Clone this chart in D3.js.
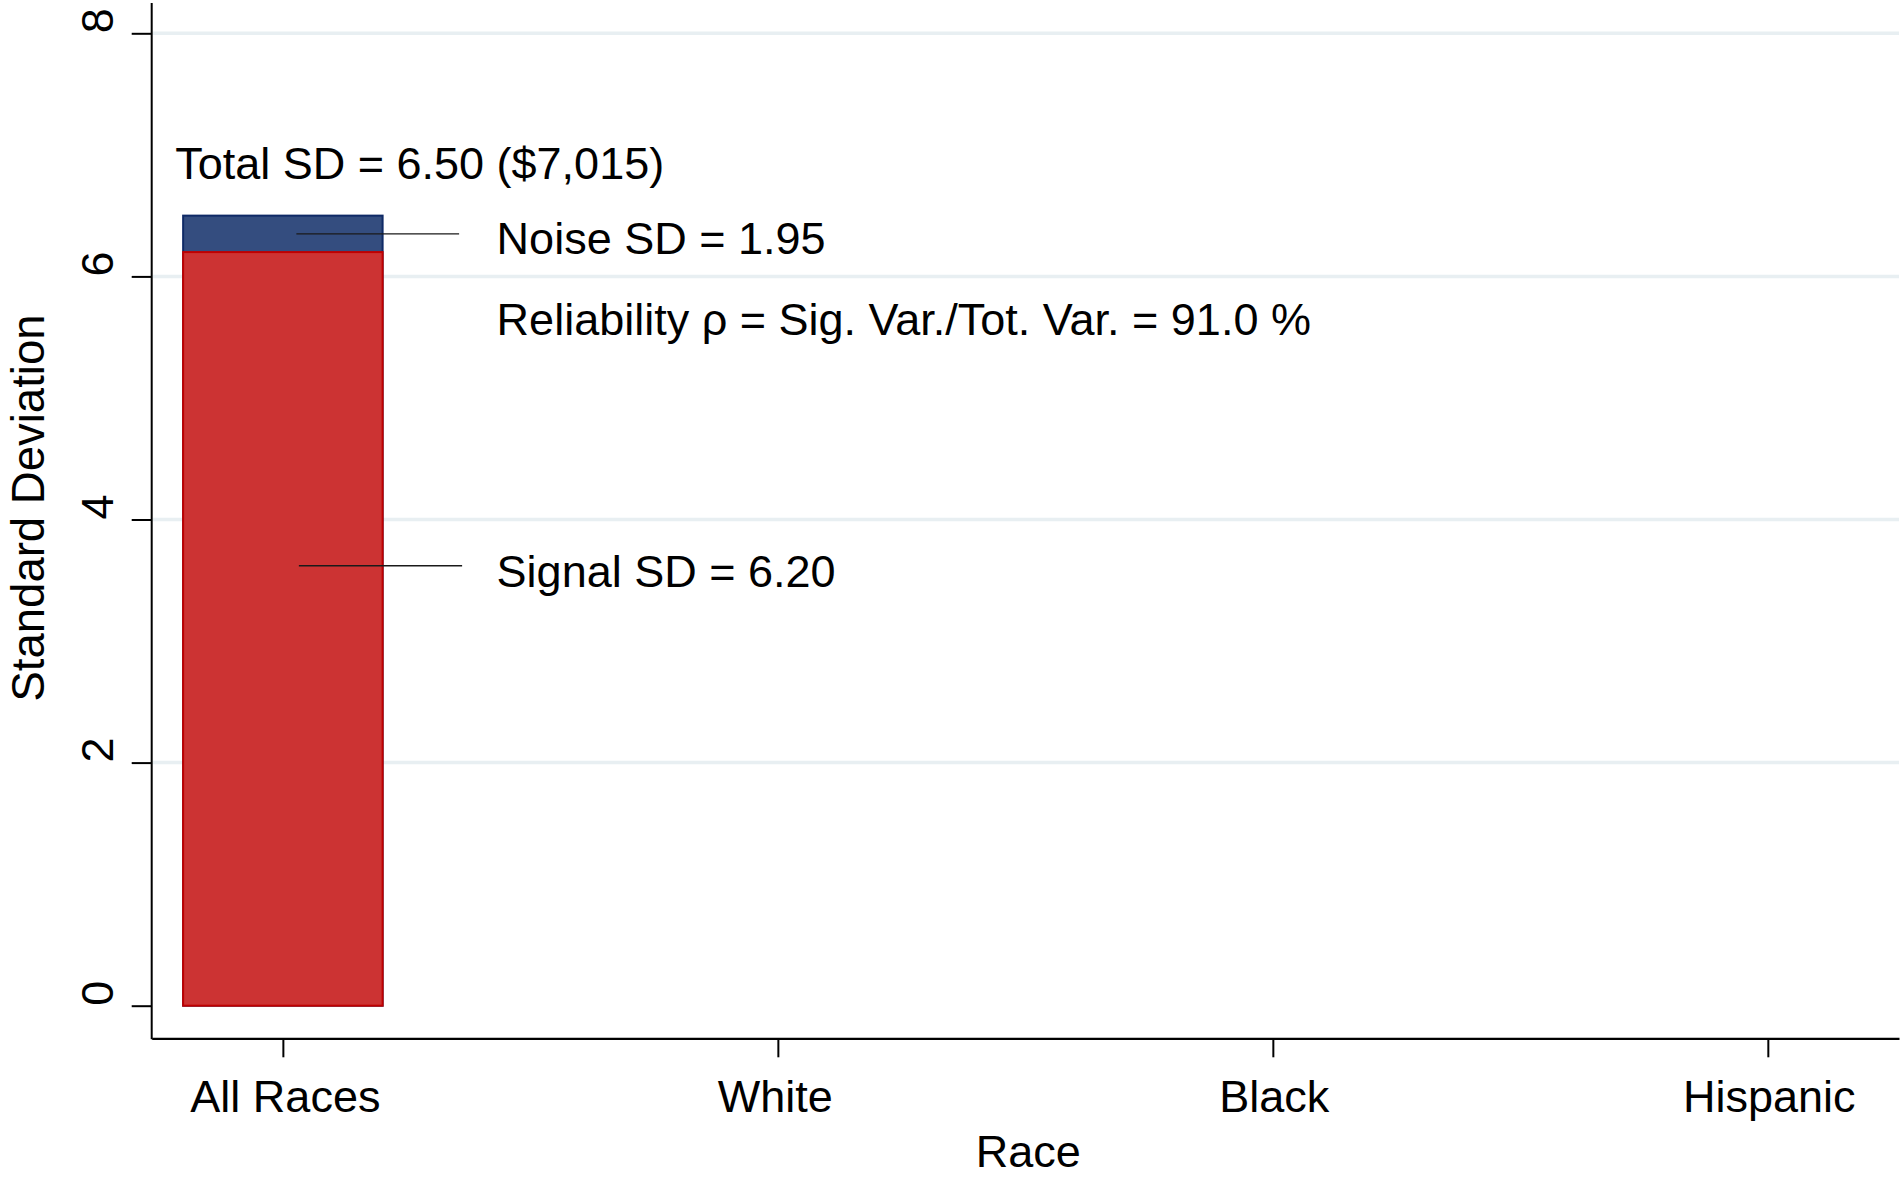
<!DOCTYPE html>
<html>
<head>
<meta charset="utf-8">
<script src="https://cdn.jsdelivr.net/npm/d3@7"></script>
<style>
  html, body { margin: 0; padding: 0; background: #ffffff; }
  svg { display: block; }
  text { font-family: "Liberation Sans", Arial, Helvetica, sans-serif; fill: #000; }
</style>
</head>
<body>
<svg id="chart" width="1900" height="1177"></svg>
<script>
// ---- data ----
const categories = ["All Races", "White", "Black", "Hispanic"];
const signalSD   = [6.20, null, null, null];
const totalSD    = [6.50, null, null, null];
const noiseSD    = [1.95, null, null, null];
const reliabilityPct = [91.0, null, null, null];
const totalDollars   = ["$7,015", null, null, null];
const yTicks = [0, 2, 4, 6, 8];
const yDomain = [0, 8];
const xTitle = "Race";
const yTitle = "Standard Deviation";

// ---- layout ----
const W = 1900, H = 1177;
const plotLeft = 151.7, plotRight = 1899, plotTop = 3, xAxisY = 1038.3;
const y0px = 1005.7, yMaxPx = 33.3;
const FS = 45;
const labelNudge = [2, -3, 1, 1];

const svg = d3.select("#chart");

const x = d3.scalePoint().domain(categories).range([plotLeft, plotRight]).padding(0.265);
const y = d3.scaleLinear().domain(yDomain).range([y0px, yMaxPx]);
const barW = x.step() * 0.403;

// gridlines (not at 0)
svg.append("g").selectAll("line")
  .data(yTicks.filter(d => d !== 0))
  .join("line")
  .attr("x1", plotLeft + 1).attr("x2", plotRight)
  .attr("y1", d => y(d)).attr("y2", d => y(d))
  .attr("stroke", "#e8eff2").attr("stroke-width", 3.5);

// bars: total (blue) under, signal (red) on top
const rows = categories.map((c, i) => ({ c, sig: signalSD[i], tot: totalSD[i], noise: noiseSD[i], rel: reliabilityPct[i], dol: totalDollars[i] }))
  .filter(d => d.sig != null);

svg.append("g").selectAll("rect.tot")
  .data(rows).join("rect")
  .attr("x", d => x(d.c) - barW / 2)
  .attr("width", barW)
  .attr("y", d => y(d.tot))
  .attr("height", d => y(0) - y(d.tot))
  .attr("fill", "#344d7f").attr("stroke", "#0f2a66").attr("stroke-width", 2);

svg.append("g").selectAll("rect.sig")
  .data(rows).join("rect")
  .attr("x", d => x(d.c) - barW / 2)
  .attr("width", barW)
  .attr("y", d => y(d.sig))
  .attr("height", d => y(0) - y(d.sig))
  .attr("fill", "#cc3333").attr("stroke", "#c00000").attr("stroke-width", 2);

// y axis
const yAxis = d3.axisLeft(y).tickValues(yTicks).tickSize(20).tickFormat(d3.format("d"));
const gy = svg.append("g").attr("transform", `translate(${plotLeft},0)`).call(yAxis);
gy.select(".domain").remove();
gy.selectAll(".tick line").attr("stroke", "#000").attr("stroke-width", 2);
gy.selectAll(".tick text")
  .attr("x", null).attr("dy", null)
  .attr("text-anchor", "middle")
  .attr("transform", "translate(-39,-13) rotate(-90)")
  .style("font-size", FS + "px")
  .style("font-family", '"Liberation Sans", Arial, sans-serif')
  .attr("fill", "#000");
svg.append("line")
  .attr("x1", plotLeft).attr("x2", plotLeft)
  .attr("y1", plotTop).attr("y2", xAxisY + 1)
  .attr("stroke", "#000").attr("stroke-width", 2);

// x axis
const xAxis = d3.axisBottom(x).tickSize(19).tickSizeOuter(0);
const gx = svg.append("g").attr("transform", `translate(0,${xAxisY})`).call(xAxis);
gx.select(".domain").attr("stroke", "#000").attr("stroke-width", 2.2);
gx.selectAll(".tick line").attr("stroke", "#000").attr("stroke-width", 2);
gx.selectAll(".tick text")
  .attr("y", 73.7).attr("dy", null)
  .attr("dx", (d, i) => labelNudge[i])
  .style("font-size", FS + "px")
  .style("font-family", '"Liberation Sans", Arial, sans-serif')
  .attr("fill", "#000");

// axis titles
svg.append("text")
  .attr("x", (plotLeft + plotRight) / 2 + 3).attr("y", 1166.5)
  .attr("text-anchor", "middle").style("font-size", FS + "px")
  .text(xTitle);
svg.append("text")
  .attr("transform", `translate(44,508) rotate(-90)`)
  .attr("text-anchor", "middle").style("font-size", "45.5px")
  .text(yTitle);

// annotations
const ann = svg.append("g");
rows.forEach(d => {
  const cx = x(d.c);
  const left = cx - barW / 2, right = cx + barW / 2;
  const tx = right + 114;
  // total
  ann.append("text").attr("x", left - 8).attr("y", y(d.tot + 0.30))
    .style("font-size", FS + "px")
    .text(`Total SD = ${d.tot.toFixed(2)} (${d.dol})`);
  // noise
  const ny = y((d.sig + d.tot) / 2);
  ann.append("line").attr("x1", cx + 13.5).attr("x2", tx - 37.5)
    .attr("y1", ny).attr("y2", ny).attr("stroke", "#1a1a1a").attr("stroke-width", 1.4);
  ann.append("text").attr("x", tx).attr("y", ny + 20)
    .style("font-size", FS + "px")
    .text(`Noise SD = ${d.noise.toFixed(2)}`);
  // reliability
  ann.append("text").attr("x", tx).attr("y", y(d.tot - 0.98))
    .style("font-size", FS + "px")
    .text(`Reliability ρ = Sig. Var./Tot. Var. = ${d.rel.toFixed(1)} %`);
  // signal
  const sy = y(3.62);
  ann.append("line").attr("x1", cx + 16).attr("x2", tx - 34.5)
    .attr("y1", sy).attr("y2", sy).attr("stroke", "#1a1a1a").attr("stroke-width", 1.4);
  ann.append("text").attr("x", tx).attr("y", sy + 21)
    .style("font-size", FS + "px")
    .text(`Signal SD = ${d.sig.toFixed(2)}`);
});
</script>
</body>
</html>
